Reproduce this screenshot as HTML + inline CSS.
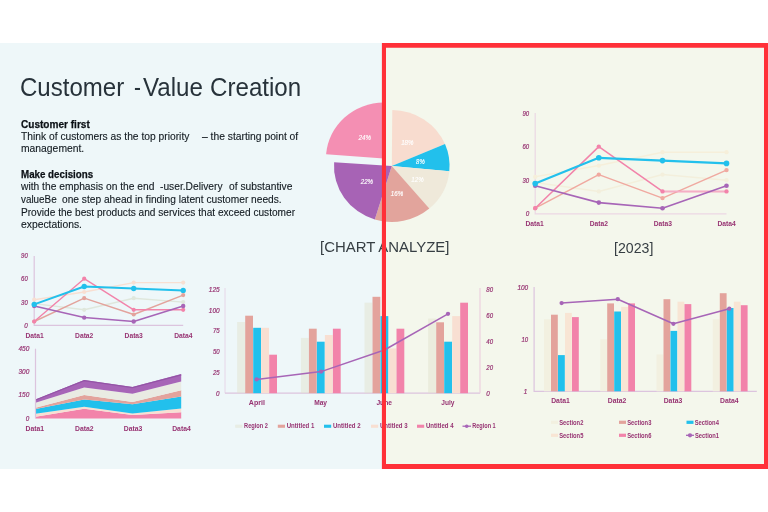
<!DOCTYPE html>
<html><head><meta charset="utf-8"><title>Customer - Value Creation</title>
<style>
html,body{margin:0;padding:0;background:#fff;}
body{width:768px;height:512px;position:relative;overflow:hidden;font-family:"Liberation Sans",sans-serif;}
.left{position:absolute;left:0;top:43px;width:384px;height:426px;background:#eef7f9;}
.right{position:absolute;left:382px;top:43px;width:392px;height:425.5px;background:#f4f7ec;}
.frame{position:absolute;left:382px;top:43px;width:392px;height:425.5px;box-sizing:border-box;border:4.5px solid #ff3038;border-left-width:4px;border-right-width:10px;}
#stage{position:absolute;left:0;top:0;width:780px;height:512px;filter:blur(0.4px);}
.t{position:absolute;white-space:pre;color:#1f2a33;transform-origin:0 0;}
.title{font-size:26px;line-height:34px;color:#27323a;}
.h{font-weight:bold;font-size:10.5px;line-height:13px;color:#0c1116;-webkit-text-stroke:0.25px #0c1116;}
.p{font-size:10.5px;line-height:13px;color:#121a20;-webkit-text-stroke:0.12px #121a20;}
.cap{font-size:14.5px;line-height:18px;color:#363e43;}
</style></head><body>
<div id="stage">
<div class="left"></div>
<div class="right"></div>
<div class="t title" style="left:20.0px;top:70.4px;transform:scaleX(0.925);">Customer</div>
<div class="t title" style="left:134.4px;top:70.4px;transform:scaleX(0.8);">-</div>
<div class="t title" style="left:143.3px;top:70.4px;transform:scaleX(0.928);">Value</div>
<div class="t title" style="left:209.6px;top:70.4px;transform:scaleX(0.928);">Creation</div>
<div class="t h" style="left:21.3px;top:117.86px;transform:scaleX(0.958);">Customer first</div>
<div class="t p" style="left:21.2px;top:129.96px;transform:scaleX(0.978);">Think of customers as the top priority</div>
<div class="t p" style="left:202.1px;top:129.96px;transform:scaleX(0.981);">– the starting point of</div>
<div class="t p" style="left:21.2px;top:142.26px;transform:scaleX(0.985);">management.</div>
<div class="t h" style="left:21.3px;top:167.86px;transform:scaleX(0.929);">Make decisions</div>
<div class="t p" style="left:21.2px;top:180.36px;transform:scaleX(0.977);">with the emphasis on the end</div>
<div class="t p" style="left:160.4px;top:180.36px;transform:scaleX(0.974);">-user.Delivery</div>
<div class="t p" style="left:228.75px;top:180.36px;transform:scaleX(0.978);">of substantive</div>
<div class="t p" style="left:21.3px;top:193.26px;transform:scaleX(0.94);">valueBe</div>
<div class="t p" style="left:61.9px;top:193.26px;transform:scaleX(0.97);">one step ahead in finding latent customer needs.</div>
<div class="t p" style="left:21.3px;top:205.76px;transform:scaleX(0.964);">Provide the best products and services that exceed customer</div>
<div class="t p" style="left:21.3px;top:218.06px;transform:scaleX(0.985);">expectations.</div>
<svg width="768" height="512" viewBox="0 0 768 512" font-family="Liberation Sans, sans-serif" style="position:absolute;left:0;top:0">
<path d="M34.2 256.0V325.4H183.2" fill="none" stroke="#dcc4de" stroke-width="1.2"/>
<text x="27.8" y="327.9" font-size="7.0" fill="#973372" text-anchor="end" font-style="italic" textLength="3.5" lengthAdjust="spacingAndGlyphs" stroke="#973372" stroke-width="0.2">0</text>
<text x="27.8" y="304.6" font-size="7.0" fill="#973372" text-anchor="end" font-style="italic" textLength="6.7" lengthAdjust="spacingAndGlyphs" stroke="#973372" stroke-width="0.2">30</text>
<text x="27.8" y="281.3" font-size="7.0" fill="#973372" text-anchor="end" font-style="italic" textLength="6.7" lengthAdjust="spacingAndGlyphs" stroke="#973372" stroke-width="0.2">60</text>
<text x="27.8" y="257.9" font-size="7.0" fill="#973372" text-anchor="end" font-style="italic" textLength="6.7" lengthAdjust="spacingAndGlyphs" stroke="#973372" stroke-width="0.2">90</text>
<text x="34.6" y="337.9" font-size="7.5" fill="#973372" text-anchor="middle" font-weight="bold" textLength="18.3" lengthAdjust="spacingAndGlyphs">Data1</text>
<text x="84.2" y="337.9" font-size="7.5" fill="#973372" text-anchor="middle" font-weight="bold" textLength="18.3" lengthAdjust="spacingAndGlyphs">Data2</text>
<text x="133.7" y="337.9" font-size="7.5" fill="#973372" text-anchor="middle" font-weight="bold" textLength="18.3" lengthAdjust="spacingAndGlyphs">Data3</text>
<text x="183.4" y="337.9" font-size="7.5" fill="#973372" text-anchor="middle" font-weight="bold" textLength="18.3" lengthAdjust="spacingAndGlyphs">Data4</text>
<polyline points="34.2,299.7 84.2,292.0 133.7,282.6 183.2,282.6" fill="none" stroke="#f8dfd2" stroke-width="1.40" stroke-linejoin="round"/>
<circle cx="34.2" cy="299.7" r="2.08" fill="#f8dfd2"/>
<circle cx="84.2" cy="292.0" r="2.08" fill="#f8dfd2"/>
<circle cx="133.7" cy="282.6" r="2.08" fill="#f8dfd2"/>
<circle cx="183.2" cy="282.6" r="2.08" fill="#f8dfd2"/>
<polyline points="34.2,303.6 84.2,309.8 133.7,298.2 183.2,302.1" fill="none" stroke="#dfe7dc" stroke-width="1.40" stroke-linejoin="round"/>
<circle cx="34.2" cy="303.6" r="2.08" fill="#dfe7dc"/>
<circle cx="84.2" cy="309.8" r="2.08" fill="#dfe7dc"/>
<circle cx="133.7" cy="298.2" r="2.08" fill="#dfe7dc"/>
<circle cx="183.2" cy="302.1" r="2.08" fill="#dfe7dc"/>
<polyline points="34.2,321.5 84.2,298.2 133.7,314.5 183.2,295.1" fill="none" stroke="#e3a39c" stroke-width="1.40" stroke-linejoin="round"/>
<circle cx="34.2" cy="321.5" r="2.08" fill="#e3a39c"/>
<circle cx="84.2" cy="298.2" r="2.08" fill="#e3a39c"/>
<circle cx="133.7" cy="314.5" r="2.08" fill="#e3a39c"/>
<circle cx="183.2" cy="295.1" r="2.08" fill="#e3a39c"/>
<polyline points="34.2,321.5 84.2,278.7 133.7,309.8 183.2,309.8" fill="none" stroke="#f283aa" stroke-width="1.40" stroke-linejoin="round"/>
<circle cx="34.2" cy="321.5" r="2.08" fill="#f283aa"/>
<circle cx="84.2" cy="278.7" r="2.08" fill="#f283aa"/>
<circle cx="133.7" cy="309.8" r="2.08" fill="#f283aa"/>
<circle cx="183.2" cy="309.8" r="2.08" fill="#f283aa"/>
<polyline points="34.2,306.0 84.2,317.6 133.7,321.5 183.2,306.0" fill="none" stroke="#a765b7" stroke-width="1.54" stroke-linejoin="round"/>
<circle cx="34.2" cy="306.0" r="2.21" fill="#a765b7"/>
<circle cx="84.2" cy="317.6" r="2.21" fill="#a765b7"/>
<circle cx="133.7" cy="321.5" r="2.21" fill="#a765b7"/>
<circle cx="183.2" cy="306.0" r="2.21" fill="#a765b7"/>
<polyline points="34.2,304.4 84.2,286.5 133.7,288.5 183.2,290.4" fill="none" stroke="#22c0ec" stroke-width="2.03" stroke-linejoin="round"/>
<circle cx="34.2" cy="304.4" r="2.68" fill="#22c0ec"/>
<circle cx="84.2" cy="286.5" r="2.68" fill="#22c0ec"/>
<circle cx="133.7" cy="288.5" r="2.68" fill="#22c0ec"/>
<circle cx="183.2" cy="290.4" r="2.68" fill="#22c0ec"/>
<path d="M535.2 113.0V213.8H726.5" fill="none" stroke="#ecd8e4" stroke-width="1.2"/>
<text x="529.2" y="216.3" font-size="7.0" fill="#973372" text-anchor="end" font-style="italic" textLength="3.5" lengthAdjust="spacingAndGlyphs" stroke="#973372" stroke-width="0.2">0</text>
<text x="529.2" y="182.7" font-size="7.0" fill="#973372" text-anchor="end" font-style="italic" textLength="6.7" lengthAdjust="spacingAndGlyphs" stroke="#973372" stroke-width="0.2">30</text>
<text x="529.2" y="149.1" font-size="7.0" fill="#973372" text-anchor="end" font-style="italic" textLength="6.7" lengthAdjust="spacingAndGlyphs" stroke="#973372" stroke-width="0.2">60</text>
<text x="529.2" y="115.5" font-size="7.0" fill="#973372" text-anchor="end" font-style="italic" textLength="6.7" lengthAdjust="spacingAndGlyphs" stroke="#973372" stroke-width="0.2">90</text>
<text x="534.6" y="226.1" font-size="7.5" fill="#973372" text-anchor="middle" font-weight="bold" textLength="18.3" lengthAdjust="spacingAndGlyphs">Data1</text>
<text x="598.9" y="226.1" font-size="7.5" fill="#973372" text-anchor="middle" font-weight="bold" textLength="18.3" lengthAdjust="spacingAndGlyphs">Data2</text>
<text x="662.8" y="226.1" font-size="7.5" fill="#973372" text-anchor="middle" font-weight="bold" textLength="18.3" lengthAdjust="spacingAndGlyphs">Data3</text>
<text x="726.6" y="226.1" font-size="7.5" fill="#973372" text-anchor="middle" font-weight="bold" textLength="18.3" lengthAdjust="spacingAndGlyphs">Data4</text>
<polyline points="535.2,176.8 598.8,165.6 662.5,152.2 726.5,152.2" fill="none" stroke="#f6efda" stroke-width="1.50" stroke-linejoin="round"/>
<circle cx="535.2" cy="176.8" r="2.17" fill="#f6efda"/>
<circle cx="598.8" cy="165.6" r="2.17" fill="#f6efda"/>
<circle cx="662.5" cy="152.2" r="2.17" fill="#f6efda"/>
<circle cx="726.5" cy="152.2" r="2.17" fill="#f6efda"/>
<polyline points="535.2,182.4 598.8,191.4 662.5,174.6 726.5,180.2" fill="none" stroke="#f3efdc" stroke-width="1.50" stroke-linejoin="round"/>
<circle cx="535.2" cy="182.4" r="2.17" fill="#f3efdc"/>
<circle cx="598.8" cy="191.4" r="2.17" fill="#f3efdc"/>
<circle cx="662.5" cy="174.6" r="2.17" fill="#f3efdc"/>
<circle cx="726.5" cy="180.2" r="2.17" fill="#f3efdc"/>
<polyline points="535.2,208.2 598.8,174.6 662.5,198.1 726.5,170.1" fill="none" stroke="#f0a9a0" stroke-width="1.50" stroke-linejoin="round"/>
<circle cx="535.2" cy="208.2" r="2.17" fill="#f0a9a0"/>
<circle cx="598.8" cy="174.6" r="2.17" fill="#f0a9a0"/>
<circle cx="662.5" cy="198.1" r="2.17" fill="#f0a9a0"/>
<circle cx="726.5" cy="170.1" r="2.17" fill="#f0a9a0"/>
<polyline points="535.2,208.2 598.8,146.6 662.5,191.4 726.5,191.4" fill="none" stroke="#f283aa" stroke-width="1.50" stroke-linejoin="round"/>
<path d="M662.5 191.4L726.5 191.4" stroke="#f5aec5" stroke-width="1.50"/>
<circle cx="535.2" cy="208.2" r="2.17" fill="#f283aa"/>
<circle cx="598.8" cy="146.6" r="2.17" fill="#f283aa"/>
<circle cx="662.5" cy="191.4" r="2.17" fill="#f283aa"/>
<circle cx="726.5" cy="191.4" r="2.17" fill="#f283aa"/>
<polyline points="535.2,185.8 598.8,202.6 662.5,208.2 726.5,185.8" fill="none" stroke="#a765b7" stroke-width="1.65" stroke-linejoin="round"/>
<circle cx="535.2" cy="185.8" r="2.32" fill="#a765b7"/>
<circle cx="598.8" cy="202.6" r="2.32" fill="#a765b7"/>
<circle cx="662.5" cy="208.2" r="2.32" fill="#a765b7"/>
<circle cx="726.5" cy="185.8" r="2.32" fill="#a765b7"/>
<polyline points="535.2,183.6 598.8,157.8 662.5,160.6 726.5,163.4" fill="none" stroke="#22c0ec" stroke-width="2.17" stroke-linejoin="round"/>
<circle cx="535.2" cy="183.6" r="2.82" fill="#22c0ec"/>
<circle cx="598.8" cy="157.8" r="2.82" fill="#22c0ec"/>
<circle cx="662.5" cy="160.6" r="2.82" fill="#22c0ec"/>
<circle cx="726.5" cy="163.4" r="2.82" fill="#22c0ec"/>
<polygon points="35.5,418.4 84.2,418.4 132.5,418.4 181.2,418.4 181.2,412.2 132.5,415.0 84.2,408.8 35.5,416.7" fill="#f283aa"/>
<polygon points="35.5,416.7 84.2,408.8 132.5,415.0 181.2,412.2 181.2,408.5 132.5,413.5 84.2,406.8 35.5,413.7" fill="#f8dfd2"/>
<polygon points="35.5,413.7 84.2,406.8 132.5,413.5 181.2,408.5 181.2,396.4 132.5,404.3 84.2,399.4 35.5,409.0" fill="#22c0ec"/>
<polygon points="35.5,409.0 84.2,399.4 132.5,404.3 181.2,396.4 181.2,390.2 132.5,401.9 84.2,394.9 35.5,407.8" fill="#e3a39c"/>
<polygon points="35.5,407.8 84.2,394.9 132.5,401.9 181.2,390.2 181.2,381.6 132.5,393.7 84.2,387.5 35.5,402.8" fill="#e9ebe3"/>
<polygon points="35.5,402.8 84.2,387.5 132.5,393.7 181.2,381.6 181.2,374.1 132.5,387.0 84.2,380.1 35.5,399.4" fill="#a765b7"/>
<polyline points="35.5,400.0 84.2,380.7 132.5,387.7 181.2,374.8" fill="none" stroke="#9454a6" stroke-width="1.3"/>
<path d="M35.5 348.7V418.4" fill="none" stroke="#dcc4de" stroke-width="1.2"/>
<text x="29.3" y="350.7" font-size="7.0" fill="#973372" text-anchor="end" font-style="italic" textLength="10.8" lengthAdjust="spacingAndGlyphs" stroke="#973372" stroke-width="0.2">450</text>
<text x="29.3" y="374.2" font-size="7.0" fill="#973372" text-anchor="end" font-style="italic" textLength="10.8" lengthAdjust="spacingAndGlyphs" stroke="#973372" stroke-width="0.2">300</text>
<text x="29.3" y="397.4" font-size="7.0" fill="#973372" text-anchor="end" font-style="italic" textLength="10.8" lengthAdjust="spacingAndGlyphs" stroke="#973372" stroke-width="0.2">150</text>
<text x="29.3" y="420.7" font-size="7.0" fill="#973372" text-anchor="end" font-style="italic" textLength="3.5" lengthAdjust="spacingAndGlyphs" stroke="#973372" stroke-width="0.2">0</text>
<text x="34.8" y="430.8" font-size="7.5" fill="#973372" text-anchor="middle" font-weight="bold" textLength="18.6" lengthAdjust="spacingAndGlyphs">Data1</text>
<text x="84.3" y="430.8" font-size="7.5" fill="#973372" text-anchor="middle" font-weight="bold" textLength="18.6" lengthAdjust="spacingAndGlyphs">Data2</text>
<text x="133.1" y="430.8" font-size="7.5" fill="#973372" text-anchor="middle" font-weight="bold" textLength="18.6" lengthAdjust="spacingAndGlyphs">Data3</text>
<text x="181.5" y="430.8" font-size="7.5" fill="#973372" text-anchor="middle" font-weight="bold" textLength="18.6" lengthAdjust="spacingAndGlyphs">Data4</text>
<path d="M225.0 288V393.2" fill="none" stroke="#e6d6e8" stroke-width="1"/>
<path d="M225.0 393.2H480" fill="none" stroke="#dcc4de" stroke-width="1.2"/>
<path d="M480 288V393.2" fill="none" stroke="#ecd0e0" stroke-width="1.2"/>
<text x="219.6" y="291.9" font-size="7.0" fill="#973372" text-anchor="end" font-style="italic" textLength="10.8" lengthAdjust="spacingAndGlyphs" stroke="#973372" stroke-width="0.2">125</text>
<text x="219.6" y="312.5" font-size="7.0" fill="#973372" text-anchor="end" font-style="italic" textLength="10.8" lengthAdjust="spacingAndGlyphs" stroke="#973372" stroke-width="0.2">100</text>
<text x="219.6" y="333.1" font-size="7.0" fill="#973372" text-anchor="end" font-style="italic" textLength="6.7" lengthAdjust="spacingAndGlyphs" stroke="#973372" stroke-width="0.2">75</text>
<text x="219.6" y="353.9" font-size="7.0" fill="#973372" text-anchor="end" font-style="italic" textLength="6.7" lengthAdjust="spacingAndGlyphs" stroke="#973372" stroke-width="0.2">50</text>
<text x="219.6" y="374.7" font-size="7.0" fill="#973372" text-anchor="end" font-style="italic" textLength="6.7" lengthAdjust="spacingAndGlyphs" stroke="#973372" stroke-width="0.2">25</text>
<text x="219.6" y="395.6" font-size="7.0" fill="#973372" text-anchor="end" font-style="italic" textLength="3.5" lengthAdjust="spacingAndGlyphs" stroke="#973372" stroke-width="0.2">0</text>
<text x="486.3" y="395.6" font-size="7.0" fill="#973372" text-anchor="start" font-style="italic" textLength="3.5" lengthAdjust="spacingAndGlyphs" stroke="#973372" stroke-width="0.2">0</text>
<text x="486.3" y="369.8" font-size="7.0" fill="#973372" text-anchor="start" font-style="italic" textLength="6.7" lengthAdjust="spacingAndGlyphs" stroke="#973372" stroke-width="0.2">20</text>
<text x="486.3" y="343.9" font-size="7.0" fill="#973372" text-anchor="start" font-style="italic" textLength="6.7" lengthAdjust="spacingAndGlyphs" stroke="#973372" stroke-width="0.2">40</text>
<text x="486.3" y="318.1" font-size="7.0" fill="#973372" text-anchor="start" font-style="italic" textLength="6.7" lengthAdjust="spacingAndGlyphs" stroke="#973372" stroke-width="0.2">60</text>
<text x="486.3" y="292.2" font-size="7.0" fill="#973372" text-anchor="start" font-style="italic" textLength="6.7" lengthAdjust="spacingAndGlyphs" stroke="#973372" stroke-width="0.2">80</text>
<rect x="237.2" y="322.0" width="7.8" height="71.2" fill="rgba(226,226,204,0.48)"/>
<rect x="245.2" y="315.7" width="7.8" height="77.5" fill="#e3a39c"/>
<rect x="253.2" y="327.8" width="7.8" height="65.4" fill="#22c0ec"/>
<rect x="261.2" y="327.8" width="7.8" height="65.4" fill="#f8dfd2"/>
<rect x="269.2" y="354.7" width="7.8" height="38.5" fill="#f283aa"/>
<text x="256.9" y="405.2" font-size="7.8" fill="#973372" text-anchor="middle" font-weight="bold" textLength="16.1" lengthAdjust="spacingAndGlyphs">April</text>
<rect x="300.9" y="337.9" width="7.8" height="55.3" fill="rgba(226,226,204,0.48)"/>
<rect x="308.9" y="328.7" width="7.8" height="64.5" fill="#e3a39c"/>
<rect x="316.9" y="341.7" width="7.8" height="51.5" fill="#22c0ec"/>
<rect x="324.9" y="335.0" width="7.8" height="58.2" fill="#f8dfd2"/>
<rect x="332.9" y="328.7" width="7.8" height="64.5" fill="#f283aa"/>
<text x="320.6" y="405.2" font-size="7.8" fill="#973372" text-anchor="middle" font-weight="bold" textLength="12.9" lengthAdjust="spacingAndGlyphs">May</text>
<rect x="364.5" y="302.7" width="7.8" height="90.5" fill="rgba(226,226,204,0.48)"/>
<rect x="372.5" y="296.8" width="7.8" height="96.4" fill="#e3a39c"/>
<rect x="380.5" y="316.1" width="7.8" height="77.1" fill="#22c0ec"/>
<rect x="388.5" y="348.4" width="7.8" height="44.8" fill="#f8dfd2"/>
<rect x="396.5" y="328.7" width="7.8" height="64.5" fill="#f283aa"/>
<text x="384.2" y="405.2" font-size="7.8" fill="#973372" text-anchor="middle" font-weight="bold" textLength="15.6" lengthAdjust="spacingAndGlyphs">June</text>
<rect x="428.2" y="318.6" width="7.8" height="74.6" fill="rgba(226,226,204,0.48)"/>
<rect x="436.2" y="322.3" width="7.8" height="70.9" fill="#e3a39c"/>
<rect x="444.2" y="341.7" width="7.8" height="51.5" fill="#22c0ec"/>
<rect x="452.2" y="316.1" width="7.8" height="77.1" fill="#f8dfd2"/>
<rect x="460.2" y="302.7" width="7.8" height="90.5" fill="#f283aa"/>
<text x="447.9" y="405.2" font-size="7.8" fill="#973372" text-anchor="middle" font-weight="bold" textLength="13.2" lengthAdjust="spacingAndGlyphs">July</text>
<polyline points="256.6,379.4 321.1,371.6 384.4,350 448,313.8" fill="none" stroke="#a765b7" stroke-width="1.5" stroke-linejoin="round"/>
<circle cx="256.6" cy="379.4" r="2.16" fill="#a765b7"/>
<circle cx="321.1" cy="371.6" r="2.16" fill="#a765b7"/>
<circle cx="384.4" cy="350.0" r="2.16" fill="#a765b7"/>
<circle cx="448.0" cy="313.8" r="2.16" fill="#a765b7"/>
<rect x="235.2" y="424.7" width="7.2" height="3.1" fill="rgba(226,226,204,0.48)"/>
<text x="244.1" y="428.4" font-size="6.9" fill="#973372" text-anchor="start" font-weight="bold" textLength="23.9" lengthAdjust="spacingAndGlyphs">Region 2</text>
<rect x="277.8" y="424.7" width="7.2" height="3.1" fill="#e3a39c"/>
<text x="286.7" y="428.4" font-size="6.9" fill="#973372" text-anchor="start" font-weight="bold" textLength="27.7" lengthAdjust="spacingAndGlyphs">Untitled 1</text>
<rect x="324" y="424.7" width="7.2" height="3.1" fill="#22c0ec"/>
<text x="332.9" y="428.4" font-size="6.9" fill="#973372" text-anchor="start" font-weight="bold" textLength="27.7" lengthAdjust="spacingAndGlyphs">Untitled 2</text>
<rect x="371" y="424.7" width="7.2" height="3.1" fill="#f8dfd2"/>
<text x="379.9" y="428.4" font-size="6.9" fill="#973372" text-anchor="start" font-weight="bold" textLength="27.7" lengthAdjust="spacingAndGlyphs">Untitled 3</text>
<rect x="417" y="424.7" width="7.2" height="3.1" fill="#f283aa"/>
<text x="425.9" y="428.4" font-size="6.9" fill="#973372" text-anchor="start" font-weight="bold" textLength="27.7" lengthAdjust="spacingAndGlyphs">Untitled 4</text>
<path d="M462.5 426.2H471" stroke="#a765b7" stroke-width="1.3"/>
<circle cx="466.7" cy="426.2" r="1.80" fill="#a765b7"/>
<text x="472.2" y="428.4" font-size="6.9" fill="#973372" text-anchor="start" font-weight="bold" textLength="23.5" lengthAdjust="spacingAndGlyphs">Region 1</text>
<path d="M534.1 287V391.3H756.8" fill="none" stroke="#dcc4de" stroke-width="1.2"/>
<text x="528.2" y="289.7" font-size="7.0" fill="#973372" text-anchor="end" font-style="italic" textLength="10.8" lengthAdjust="spacingAndGlyphs" stroke="#973372" stroke-width="0.2">100</text>
<text x="528.2" y="342.2" font-size="7.0" fill="#973372" text-anchor="end" font-style="italic" textLength="6.7" lengthAdjust="spacingAndGlyphs" stroke="#973372" stroke-width="0.2">10</text>
<text x="527.2" y="393.6" font-size="7.0" fill="#973372" text-anchor="end" font-style="italic" textLength="3.5" lengthAdjust="spacingAndGlyphs" stroke="#973372" stroke-width="0.2">1</text>
<rect x="544.0" y="319.2" width="6.8" height="72.1" fill="#f2f0e0"/>
<rect x="551.0" y="314.7" width="6.8" height="76.6" fill="#e3a39c"/>
<rect x="558.0" y="355.1" width="6.8" height="36.2" fill="#22c0ec"/>
<rect x="565.0" y="312.9" width="6.8" height="78.4" fill="#f8e5d4"/>
<rect x="572.0" y="317.1" width="6.8" height="74.2" fill="#f283aa"/>
<rect x="600.2" y="339.3" width="6.8" height="52.0" fill="#f2f0e0"/>
<rect x="607.2" y="303.4" width="6.8" height="87.9" fill="#e3a39c"/>
<rect x="614.2" y="311.5" width="6.8" height="79.8" fill="#22c0ec"/>
<rect x="621.2" y="306.9" width="6.8" height="84.4" fill="#f8e5d4"/>
<rect x="628.2" y="303.4" width="6.8" height="87.9" fill="#f283aa"/>
<rect x="656.5" y="354.4" width="6.8" height="36.9" fill="#f2f0e0"/>
<rect x="663.5" y="299.2" width="6.8" height="92.1" fill="#e3a39c"/>
<rect x="670.5" y="330.9" width="6.8" height="60.4" fill="#22c0ec"/>
<rect x="677.5" y="301.7" width="6.8" height="89.6" fill="#f8e5d4"/>
<rect x="684.5" y="304.1" width="6.8" height="87.2" fill="#f283aa"/>
<rect x="712.8" y="319.2" width="6.8" height="72.1" fill="#f2f0e0"/>
<rect x="719.8" y="293.2" width="6.8" height="98.1" fill="#e3a39c"/>
<rect x="726.8" y="308.0" width="6.8" height="83.3" fill="#22c0ec"/>
<rect x="733.8" y="301.7" width="6.8" height="89.6" fill="#f8e5d4"/>
<rect x="740.8" y="305.2" width="6.8" height="86.1" fill="#f283aa"/>
<text x="560.5" y="403.4" font-size="7.5" fill="#973372" text-anchor="middle" font-weight="bold" textLength="18.6" lengthAdjust="spacingAndGlyphs">Data1</text>
<text x="617.1" y="403.4" font-size="7.5" fill="#973372" text-anchor="middle" font-weight="bold" textLength="18.6" lengthAdjust="spacingAndGlyphs">Data2</text>
<text x="673.0" y="403.4" font-size="7.5" fill="#973372" text-anchor="middle" font-weight="bold" textLength="18.6" lengthAdjust="spacingAndGlyphs">Data3</text>
<text x="729.3" y="403.4" font-size="7.5" fill="#973372" text-anchor="middle" font-weight="bold" textLength="18.6" lengthAdjust="spacingAndGlyphs">Data4</text>
<polyline points="561.6,303.1 617.8,299.2 673.4,323.8 729.3,308.7" fill="none" stroke="#a765b7" stroke-width="1.5" stroke-linejoin="round"/>
<circle cx="561.6" cy="303.1" r="2.16" fill="#a765b7"/>
<circle cx="617.8" cy="299.2" r="2.16" fill="#a765b7"/>
<circle cx="673.4" cy="323.8" r="2.16" fill="#a765b7"/>
<circle cx="729.3" cy="308.7" r="2.16" fill="#a765b7"/>
<rect x="551" y="420.7" width="7" height="3.2" fill="#f2f0e0"/>
<text x="559.2" y="424.6" font-size="6.9" fill="#973372" text-anchor="start" font-weight="bold" textLength="24.2" lengthAdjust="spacingAndGlyphs">Section2</text>
<rect x="619" y="420.7" width="7" height="3.2" fill="#e3a39c"/>
<text x="627.2" y="424.6" font-size="6.9" fill="#973372" text-anchor="start" font-weight="bold" textLength="24.2" lengthAdjust="spacingAndGlyphs">Section3</text>
<rect x="686.5" y="420.7" width="7" height="3.2" fill="#22c0ec"/>
<text x="694.7" y="424.6" font-size="6.9" fill="#973372" text-anchor="start" font-weight="bold" textLength="24.2" lengthAdjust="spacingAndGlyphs">Section4</text>
<rect x="551" y="433.7" width="7" height="3.2" fill="#f8e5d4"/>
<text x="559.2" y="437.6" font-size="6.9" fill="#973372" text-anchor="start" font-weight="bold" textLength="24.2" lengthAdjust="spacingAndGlyphs">Section5</text>
<rect x="619" y="433.7" width="7" height="3.2" fill="#f283aa"/>
<text x="627.2" y="437.6" font-size="6.9" fill="#973372" text-anchor="start" font-weight="bold" textLength="24.2" lengthAdjust="spacingAndGlyphs">Section6</text>
<path d="M686 435.3H694" stroke="#a765b7" stroke-width="1.3"/>
<circle cx="690.0" cy="435.3" r="2.16" fill="#a765b7"/>
<text x="694.9" y="437.6" font-size="6.9" fill="#973372" text-anchor="start" font-weight="bold" textLength="24.2" lengthAdjust="spacingAndGlyphs">Section1</text>
<path d="M391.8 166.0L392.3 110.0A57.8 56.0 0 0 1 445.0 144.1Z" fill="#f8dccf"/>
<path d="M391.8 166.0L445.0 144.1A57.8 56.0 0 0 1 449.3 171.3Z" fill="#22c0ec"/>
<path d="M391.8 166.0L449.3 171.3A57.8 56.0 0 0 1 429.3 208.6Z" fill="#efe9da"/>
<path d="M391.8 166.0L429.3 208.6A57.8 56.0 0 0 1 374.8 219.5Z" fill="#e2a49c"/>
<path d="M391.8 166.0L374.8 219.5A57.8 56.0 0 0 1 334.1 162.2Z" fill="#a763b5"/>
<path d="M383.7 158.6L326.1 154.3A57.8 56.0 0 0 1 384.0 102.6Z" fill="#f48fb3"/>
<text x="364.7" y="140.2" font-size="6.6" fill="#ffffff" text-anchor="middle" font-style="italic" textLength="12.3" lengthAdjust="spacingAndGlyphs" stroke="#ffffff" stroke-width="0.15">24%</text>
<text x="407.3" y="145.1" font-size="6.6" fill="#ffffff" text-anchor="middle" font-style="italic" textLength="12.3" lengthAdjust="spacingAndGlyphs" stroke="#ffffff" stroke-width="0.15">18%</text>
<text x="420.4" y="163.7" font-size="6.6" fill="#ffffff" text-anchor="middle" font-style="italic" textLength="8.6" lengthAdjust="spacingAndGlyphs" stroke="#ffffff" stroke-width="0.15">8%</text>
<text x="417.5" y="181.5" font-size="6.6" fill="#ffffff" text-anchor="middle" font-style="italic" textLength="12.3" lengthAdjust="spacingAndGlyphs" stroke="#ffffff" stroke-width="0.15">12%</text>
<text x="397.0" y="196.2" font-size="6.6" fill="#ffffff" text-anchor="middle" font-style="italic" textLength="12.3" lengthAdjust="spacingAndGlyphs" stroke="#ffffff" stroke-width="0.15">16%</text>
<text x="366.9" y="184.2" font-size="6.6" fill="#ffffff" text-anchor="middle" font-style="italic" textLength="12.3" lengthAdjust="spacingAndGlyphs" stroke="#ffffff" stroke-width="0.15">22%</text>
</svg>
<div class="t cap" style="left:320.2px;top:237.9px;transform:scaleX(1.029)">[CHART ANALYZE]</div>
<div class="t cap" style="left:614.1px;top:238.7px;transform:scaleX(0.975)">[2023]</div>
<svg width="780" height="512" viewBox="0 0 780 512" style="position:absolute;left:0;top:0"><path fill="#ff3038" fill-rule="evenodd" d="M381.9 43H780V468.9H381.9ZM386 47.7V464.1H764V47.7Z"/></svg>
</div>
</body></html>
